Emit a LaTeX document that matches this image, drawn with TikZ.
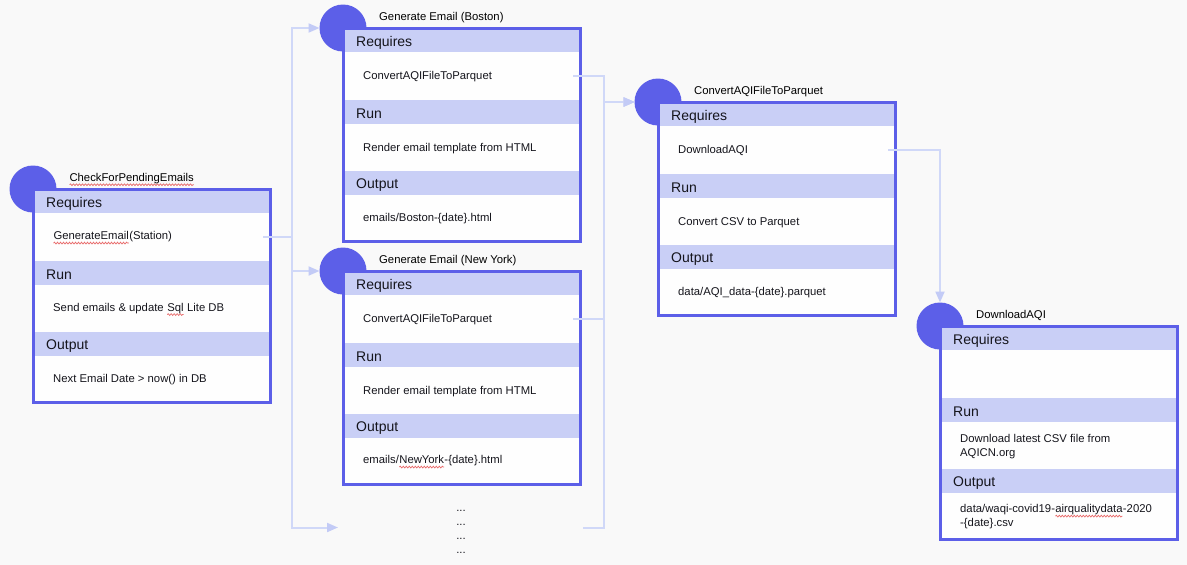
\documentclass[tikz,border=0pt]{standalone}
\usepackage{fontspec}
\setmainfont{Liberation Sans}
\usetikzlibrary{calc,arrows.meta,decorations.pathmorphing}

\definecolor{paper}{HTML}{F9F9F9}
\definecolor{ink}{HTML}{5C5FE8}
\definecolor{bandc}{HTML}{C9CFF6}
\definecolor{cardfill}{HTML}{FEFEFE}
\definecolor{wirec}{HTML}{D0D8F8}
\definecolor{tipc}{HTML}{C3CBF6}
\definecolor{textc}{HTML}{15151C}
\definecolor{typoc}{HTML}{E86A6A}

\tikzset{
  taskdot/.style={circle, fill=ink, minimum size=47pt, inner sep=0pt, outer sep=0pt},
  cardbox/.style={anchor=north west, fill=cardfill, minimum width=237pt, minimum height=213pt, inner sep=0pt, outer sep=0pt},
  bandfill/.style={fill=bandc},
  cardframe/.style={draw=ink, line width=3pt},
  cardhead/.style={anchor=base west, inner sep=0pt, text=textc, font=\fontsize{14}{16}\selectfont},
  cardbody/.style={anchor=west, inner sep=0pt, text=textc, align=left, font=\fontsize{11.3}{14}\selectfont},
  cardtitle/.style={anchor=base west, inner sep=0pt, text=black, font=\fontsize{11.3}{14}\selectfont},
  wire/.style={draw=wirec, line width=2pt},
  feed/.style={wire, -{Triangle[length=11pt,width=9pt,color=tipc]}},
  squig/.style={draw=typoc, line width=0.7pt, decorate,
    decoration={snake, amplitude=0.9pt, segment length=3pt}},
}

% spell-checker style wavy underline under a word
\newcommand{\typo}[1]{\tikz[baseline=(tw.base)]{\node[inner sep=0pt,outer sep=0pt,anchor=base] (tw) {#1};\draw[squig] ([yshift=-3.2pt]tw.base west) -- ([yshift=-3.2pt]tw.base east);}}

% task card: #1 name, #2 x, #3 y (top-left corner), #4 title, #5 requires, #6 run, #7 output
\newcommand{\taskcard}[7]{%
  \node[taskdot] (#1-dot) at (#2,#3) {};
  \node[cardbox] (#1-box) at (#2,#3) {};
  \foreach \t in {0,72,143} \fill[bandfill] (#2,#3+\t) rectangle ++(237,24);
  \draw[cardframe] (#1-box.north west) rectangle (#1-box.south east);
  \node[cardtitle] (#1-title) at (#2+36,#3-7.5) {#4};
  \node[cardhead] (#1-h1) at (#2+13,#3+18.5) {Requires};
  \node[cardbody] (#1-t1) at (#2+20,#3+49) {\vphantom{(Ag}#5};
  \node[cardhead] (#1-h2) at (#2+13,#3+90) {Run};
  \node[cardbody] (#1-t2) at (#2+20,#3+120.5) {\vphantom{(Ag}#6};
  \node[cardhead] (#1-h3) at (#2+13,#3+160) {Output};
  \node[cardbody] (#1-t3) at (#2+20,#3+191) {\vphantom{(Ag}#7};
  \coordinate (#1-req) at (#2+230,#3+48);
}

\begin{document}
\begin{tikzpicture}[x=1pt,y=-1pt]
  \path[fill=paper, use as bounding box] (0,0) rectangle (1187,565);

  \taskcard{cpe}{33}{189}{\typo{CheckForPendingEmails}}
    {\typo{GenerateEmail}(Station)}
    {Send emails \& update \typo{Sql} Lite DB}
    {Next Email Date > now() in DB}
  \taskcard{bos}{343}{28}{Generate Email (Boston)}
    {ConvertAQIFileToParquet}
    {Render email template from HTML}
    {emails/Boston-\{date\}.html}
  \taskcard{ny}{343}{271}{Generate Email (New York)}
    {ConvertAQIFileToParquet}
    {Render email template from HTML}
    {emails/\typo{NewYork}-\{date\}.html}
  \taskcard{cvt}{658}{102}{ConvertAQIFileToParquet}
    {DownloadAQI}
    {Convert CSV to Parquet}
    {data/AQI\_data-\{date\}.parquet}
  \taskcard{dl}{940}{326}{DownloadAQI}
    {}
    {Download latest CSV file from\\AQICN.org}
    {data/waqi-covid19-\typo{airqualitydata}-2020\\-\{date\}.csv}

  % further stations
  \node[cardbody, anchor=center, align=center] (more) at (461,532) {...\\...\\...\\...};

  % dependency wiring
  \coordinate (railL) at (291.5,0);
  \coordinate (railR) at (603.5,0);
  \coordinate (moreIn) at (338,527.5);
  \coordinate (moreOut) at (583,527.5);

  \draw[feed] (cpe-req) -- (cpe-req -| railL) |- (bos-dot);
  \draw[feed] (cpe-req) -- (cpe-req -| railL) |- (ny-dot);
  \draw[feed] (cpe-req) -- (cpe-req -| railL) |- (moreIn);
  \draw[feed] (bos-req) -- (bos-req -| railR) |- (cvt-dot);
  \draw[feed] (ny-req) -- (ny-req -| railR) |- (cvt-dot);
  \draw[feed] (moreOut) -- (moreOut -| railR) |- (cvt-dot);
  \draw[feed] (cvt-req) -| (dl-dot);
\end{tikzpicture}
\end{document}
